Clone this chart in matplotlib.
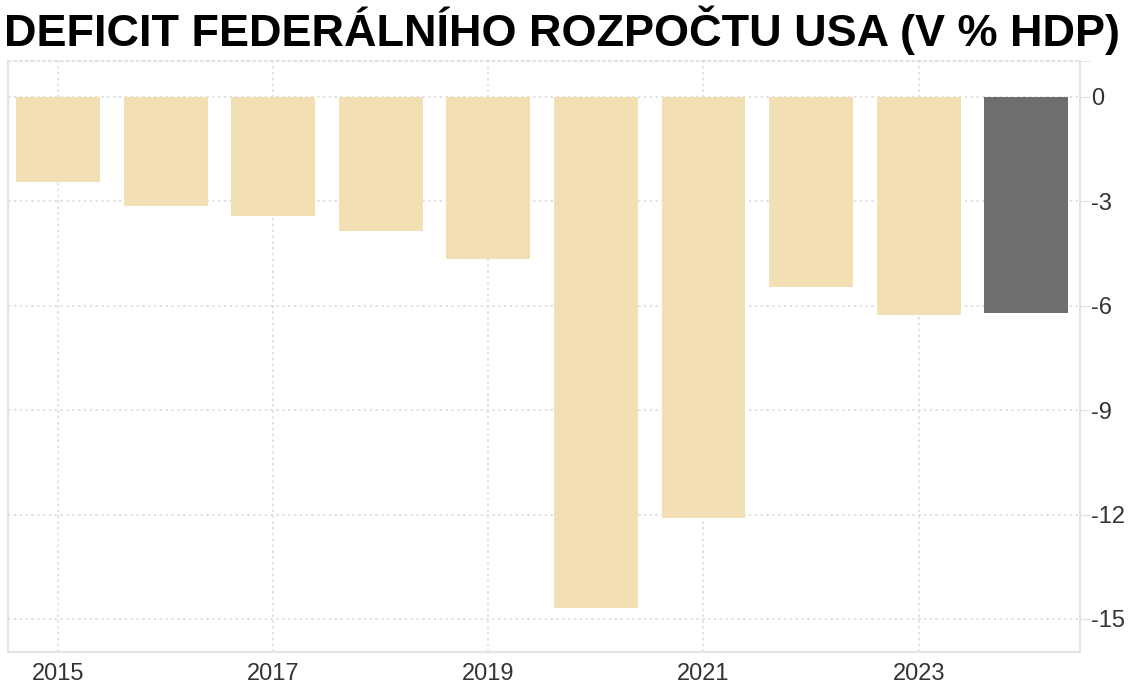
import numpy as np
import matplotlib.pyplot as plt

roky = [2015, 2016, 2017, 2018, 2019, 2020, 2021, 2022, 2023, 2024]
deficit = [-2.46, -3.14, -3.43, -3.84, -4.65, -14.69, -12.10, -5.45, -6.26, -6.20]
barvy = ['#F3DFB4'] * 9 + ['#6E6E6E']

x_ticky = [2015, 2017, 2019, 2021, 2023]
y_ticky = [0, -3, -6, -9, -12, -15]

plt.rcParams['font.family'] = ['Liberation Sans', 'DejaVu Sans']

fig = plt.figure(figsize=(11.42, 6.96), dpi=100)
ax = fig.add_axes([8 / 1142, 1 - 652 / 696, (1080 - 8) / 1142, (652 - 61) / 696])

ax.bar(roky, deficit, width=0.78, color=barvy, zorder=2)

ax.set_xlim(2014.535, 2024.5)
ax.set_ylim(-15.95, 1.03)
ax.set_xticks(x_ticky)
ax.set_yticks(y_ticky)
ax.set_yticklabels([str(v) for v in y_ticky])
ax.set_yticks([1.03], minor=True)

ax.yaxis.tick_right()
ax.tick_params(axis='y', which='both', length=7, color='#e0e0e0', labelsize=17,
               labelcolor='#333333', pad=1)
ax.tick_params(axis='x', length=0, labelsize=17, labelcolor='#333333', pad=8)

ax.grid(True, color='#dddddd', linestyle=(0, (1.5, 2)), linewidth=1.2, zorder=0)

for s in ['left', 'bottom', 'right']:
    ax.spines[s].set_color('#e3e3e3')
    ax.spines[s].set_linewidth(1.5)
ax.spines['top'].set_color('#dddddd')
ax.spines['top'].set_linestyle((0, (1.5, 2)))
ax.spines['top'].set_linewidth(1.2)

fig.text(4 / 1142, 1 - 30 / 696, 'DEFICIT FEDERÁLNÍHO ROZPOČTU USA (V % HDP)',
         fontsize=32.4, fontweight='bold', color='black', va='center', ha='left')

fig.savefig('out.png', dpi=100)
